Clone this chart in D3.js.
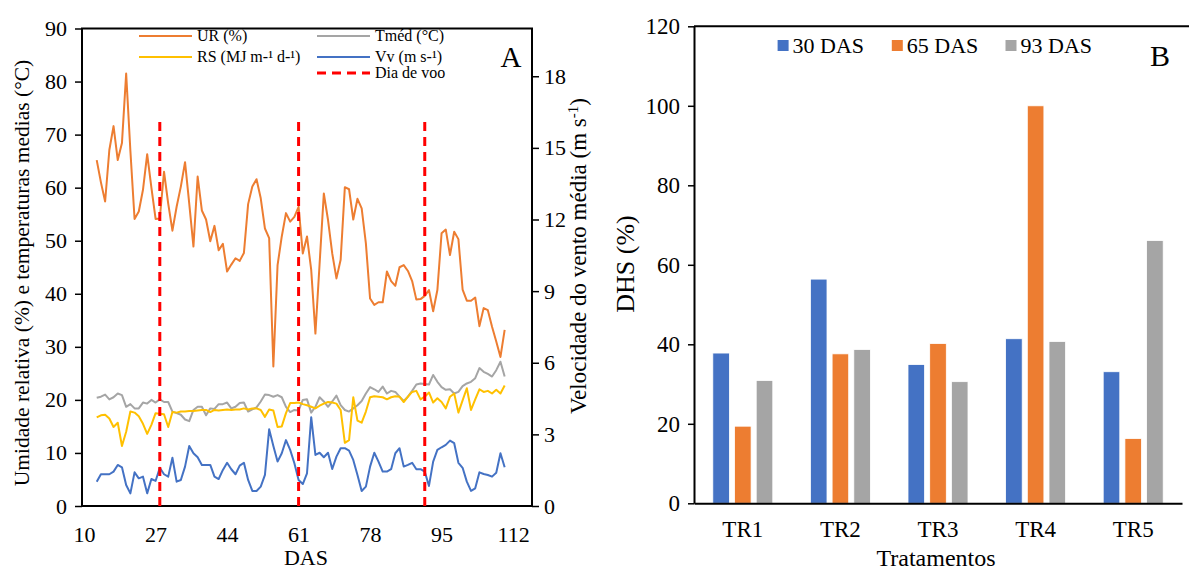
<!DOCTYPE html>
<html>
<head>
<meta charset="utf-8">
<script src="https://cdn.jsdelivr.net/npm/d3@7"></script>
<style>
  html, body { margin: 0; padding: 0; background: #fff; }
  svg { display: block; }
  svg text { font-family: "Liberation Serif", "DejaVu Serif", serif; fill: #000; }
</style>
</head>
<body>
<svg id="chart" width="1189" height="571" font-family="Liberation Serif"></svg>
<script>
// ---- Panel A: daily weather series (DAS 13 to 110) ----
const das = d3.range(13, 111);

const ur = [65.2, 61, 57.4, 67.1, 71.6, 65.2, 68.4, 81.5, 67, 54.1,
  55.5, 59.6, 66.3, 60, 54.1, 54.2, 63, 57, 51.9, 56.4,
  60.2, 64.8, 57, 48.9, 62.1, 55.7, 54, 49.9, 52.8, 48.2,
  49.4, 44.2, 45.5, 46.7, 46.2, 47.7, 56.9, 60.2, 61.6, 58,
  52.3, 50.5, 26.3, 45.4, 50.8, 55.2, 53.6, 54.5, 56.4, 47.6,
  50.8, 44.5, 32.5, 45.7, 58.9, 53.9, 47.6, 42.9, 46.4, 60.1,
  59.7, 54, 57.9, 56.1, 49.5, 39.1, 37.9, 38.4, 38.4, 44.2,
  42.4, 41.5, 45, 45.4, 44.3, 42.4, 38.9, 39, 39.6, 40.7,
  36.7, 40.7, 51.4, 52.1, 47.3, 51.7, 50.3, 40.8, 38.7, 38.7,
  39.3, 33.9, 37.3, 36.9, 33.8, 31, 28.1, 33.2];

const tmed = [20.4, 20.6, 21, 20.1, 20.5, 21.2, 20.9, 18.7, 19.2, 18.4,
  18.4, 19.5, 19.3, 20, 19.5, 20.1, 19.6, 19.6, 17.8, 17.5,
  17.2, 16.3, 16, 18.1, 18.7, 18.7, 17.1, 18.4, 18.3, 19.2,
  19.2, 19.5, 18.4, 18.7, 19.4, 19.5, 17.8, 18.2, 18.6, 19.7,
  21, 20.9, 20.6, 20.9, 20.5, 18.7, 17.7, 18.1, 18, 20,
  20.1, 17.6, 18.7, 20.5, 19.7, 18.7, 19.7, 20.8, 19, 18.1,
  17.8, 18.4, 19, 19.8, 21.2, 22.4, 22, 21.5, 22.5, 21.2,
  21.7, 21.5, 20.6, 19.8, 20.6, 21.7, 22.9, 23.1, 23, 22.9,
  24.7, 23.4, 22.4, 21.9, 22, 21.2, 21.5, 22.6, 23.1, 23.4,
  24.1, 26, 25.3, 24.9, 24.4, 25.6, 27.2, 24.4];

const rs = [16.7, 17.1, 17.2, 16.5, 14.9, 15.7, 11.3, 14, 17.8, 17.6,
  16.9, 15.5, 13.6, 15.3, 17.5, 17.4, 17.3, 14.9, 17.7, 17.6,
  17.8, 17.8, 17.9, 17.9, 18, 18.1, 18.1, 17.7, 18.1, 18,
  18.1, 18.2, 18.1, 18.2, 18.2, 18.4, 18.2, 18.4, 18.4, 18.1,
  16.8, 18.2, 18, 14.9, 15, 17.5, 19.4, 19.4, 19.5, 19.2,
  19, 18.7, 18.4, 18.9, 19.3, 19.6, 19.5, 19.3, 18.1, 11.9,
  12.4, 20.5, 16.1, 15.7, 17.8, 20.5, 20.7, 20.6, 20.5, 20.1,
  20.5, 20.7, 20.6, 19.6, 20.6, 21.5, 21.7, 20.1, 20.6, 21.4,
  19.5, 20.3, 19.6, 18.4, 20.6, 21.2, 17.6, 19.9, 22.2, 18.1,
  20.1, 22, 21.5, 21.7, 21.2, 21.9, 21.2, 22.7];

const vv = [1.02, 1.33, 1.33, 1.33, 1.44, 1.72, 1.62, 0.88, 0.53, 1.41,
  1.16, 1.23, 0.53, 1.13, 1.05, 1.6, 1.33, 1.23, 2.02, 1.02,
  1.09, 1.65, 2.51, 2.21, 2.04, 1.72, 1.72, 1.72, 1.23, 1.13,
  1.51, 1.81, 1.54, 1.33, 1.69, 1.81, 1.09, 0.63, 0.63, 0.81,
  1.3, 3.21, 2.51, 1.86, 2.21, 2.76, 2.35, 1.79, 1.09, 0.92,
  1.37, 3.72, 2.14, 2.23, 2.04, 2.23, 1.55, 2.07, 2.42, 2.42,
  2.32, 1.93, 1.3, 0.63, 0.81, 1.65, 2.23, 1.86, 1.44, 1.44,
  1.54, 2.21, 2.42, 1.65, 1.72, 1.81, 1.54, 1.54, 1.44, 0.84,
  1.86, 2.35, 2.46, 2.56, 2.74, 2.63, 1.81, 1.6, 1.02, 0.63,
  0.74, 1.41, 1.34, 1.3, 1.23, 1.39, 2.21, 1.62];

const flightDays = [28, 61, 91];
const flightTop = 73;
const dasTicks = [10, 27, 44, 61, 78, 95, 112];
const leftTicks = [0, 10, 20, 30, 40, 50, 60, 70, 80, 90];
const rightTicks = [0, 3, 6, 9, 12, 15, 18];

// ---- Panel B: DHS by treatment ----
const treatments = ["TR1", "TR2", "TR3", "TR4", "TR5"];
const dhsSeries = ["30 DAS", "65 DAS", "93 DAS"];
const dhs30 = [37.8, 56.4, 34.9, 41.4, 33.1];
const dhs65 = [19.4, 37.6, 40.2, 100, 16.3];
const dhs93 = [30.9, 38.7, 30.6, 40.7, 66.1];
const dhsTicks = [0, 20, 40, 60, 80, 100, 120];

const C = {
  ur: "#ED7D31", tmed: "#A5A5A5", rs: "#FFC000", vv: "#4472C4", voo: "#FF0000"
};
const SERIF = "Liberation Serif";

const svg = d3.select("#chart");

// ================= Panel A =================
const A = { left: 82, right: 532, top: 28.5, bottom: 506 };
const xA = d3.scaleLinear().domain([9.5, 116.5]).range([A.left, A.right]);
const yA = d3.scaleLinear().domain([0, 90]).range([A.bottom, A.top]);
const yA2 = d3.scaleLinear().domain([0, 20]).range([A.bottom, A.top]);

const gA = svg.append("g");

// plot frame
gA.append("rect")
  .attr("x", A.left).attr("y", A.top)
  .attr("width", A.right - A.left).attr("height", A.bottom - A.top)
  .attr("fill", "none").attr("stroke", "#000").attr("stroke-width", 2);

function drawLine(values, scaleY, color) {
  const line = d3.line()
    .x((d, i) => xA(das[i]))
    .y(d => scaleY(d));
  gA.append("path")
    .datum(values)
    .attr("d", line)
    .attr("fill", "none")
    .attr("stroke", color)
    .attr("stroke-width", 2)
    .attr("stroke-linejoin", "round");
}

drawLine(ur, yA, C.ur);
drawLine(tmed, yA, C.tmed);
drawLine(rs, yA, C.rs);
drawLine(vv, yA2, C.vv);

// flight days
gA.selectAll("line.voo")
  .data(flightDays)
  .join("line")
  .attr("class", "voo")
  .attr("x1", d => xA(d)).attr("x2", d => xA(d))
  .attr("y1", yA(0)).attr("y2", yA(flightTop))
  .attr("stroke", C.voo)
  .attr("stroke-width", 3)
  .attr("stroke-dasharray", "9,6");

function styleTicks(ax, size) {
  ax.attr("font-family", SERIF);
  ax.selectAll(".tick line").attr("stroke", "#000").attr("stroke-width", 1.5);
  ax.selectAll(".tick text").attr("font-size", size).attr("fill", "#000")
    .attr("font-family", SERIF);
}

// left axis
const axL = gA.append("g")
  .attr("transform", `translate(${A.left},0)`)
  .call(d3.axisLeft(yA).tickValues(leftTicks).tickSize(7).tickSizeOuter(0).tickPadding(8));
axL.select(".domain").remove();
styleTicks(axL, 22);

// right axis
const axR = gA.append("g")
  .attr("transform", `translate(${A.right},0)`)
  .call(d3.axisRight(yA2).tickValues(rightTicks).tickSize(7).tickSizeOuter(0).tickPadding(5));
axR.select(".domain").remove();
styleTicks(axR, 22);

// bottom axis labels (no tick marks)
const axB = gA.append("g")
  .attr("transform", `translate(0,${A.bottom})`)
  .call(d3.axisBottom(xA).tickValues(dasTicks).tickSize(0).tickSizeOuter(0).tickPadding(20));
axB.select(".domain").remove();
styleTicks(axB, 22);

// axis titles
gA.append("text")
  .attr("transform", "translate(29,273) rotate(-90)")
  .attr("text-anchor", "middle")
  .attr("font-family", SERIF)
  .attr("font-size", 21.5)
  .text("Umidade relativa (%) e temperaturas medias (°C)");

const rt = gA.append("text")
  .attr("transform", "translate(586,256) rotate(-90)")
  .attr("text-anchor", "middle")
  .attr("font-family", SERIF)
  .attr("font-size", 23);
rt.append("tspan").text("Velocidade do vento média (m s");
rt.append("tspan").attr("font-size", 15).attr("dy", -8).text("-1");
rt.append("tspan").attr("dy", 8).text(")");

gA.append("text")
  .attr("x", 306).attr("y", 565)
  .attr("text-anchor", "middle")
  .attr("font-family", SERIF)
  .attr("font-size", 22)
  .text("DAS");

gA.append("text")
  .attr("x", 511).attr("y", 67)
  .attr("text-anchor", "middle")
  .attr("font-family", SERIF)
  .attr("font-size", 29)
  .text("A");

// legend
const legA = [
  { label: "UR (%)", color: C.ur, x: 139, y: 36, dash: null },
  { label: "RS (MJ m-¹ d-¹)", color: C.rs, x: 139, y: 57, dash: null },
  { label: "Tméd (°C)", color: C.tmed, x: 317, y: 36, dash: null },
  { label: "Vv (m s-¹)", color: C.vv, x: 317, y: 57, dash: null },
  { label: "Dia de voo", color: C.voo, x: 317, y: 73, dash: "9,6" }
];
const lg = gA.selectAll("g.leg").data(legA).join("g").attr("class", "leg");
lg.append("line")
  .attr("x1", d => d.x).attr("x2", d => d.x + 53)
  .attr("y1", d => d.y).attr("y2", d => d.y)
  .attr("stroke", d => d.color)
  .attr("stroke-width", d => d.dash ? 3 : 2)
  .attr("stroke-dasharray", d => d.dash);
lg.append("text")
  .attr("x", d => d.x + 58).attr("y", d => d.y + 5)
  .attr("font-family", SERIF)
  .attr("font-size", 16)
  .text(d => d.label);

// ================= Panel B =================
const B = { left: 694, right: 1182, top: 26.3, bottom: 503.3 };
const xB = d3.scaleBand().domain(treatments).range([B.left, B.right]);
const xSub = d3.scaleBand().domain(dhsSeries).range([-30, 30]).paddingInner(0.235);
const yB = d3.scaleLinear().domain([0, 120]).range([B.bottom, B.top]);
const colorB = d3.scaleOrdinal().domain(dhsSeries).range([C.vv, C.ur, C.tmed]);

const gB = svg.append("g");

const barData = [];
treatments.forEach((t, i) => {
  [dhs30, dhs65, dhs93].forEach((arr, j) => {
    barData.push({ t, s: dhsSeries[j], v: arr[i] });
  });
});

gB.selectAll("rect.bar")
  .data(barData)
  .join("rect")
  .attr("class", "bar")
  .attr("x", d => xB(d.t) + xB.bandwidth() / 2 + xSub(d.s))
  .attr("width", xSub.bandwidth())
  .attr("y", d => yB(d.v))
  .attr("height", d => yB(0) - yB(d.v))
  .attr("fill", d => colorB(d.s))
  .attr("stroke", "#fff")
  .attr("stroke-width", 0.8);

// top border
gB.append("line")
  .attr("x1", B.left).attr("x2", 1189)
  .attr("y1", B.top).attr("y2", B.top)
  .attr("stroke", "#000").attr("stroke-width", 2);

// y axis
const byAx = gB.append("g")
  .attr("transform", `translate(${B.left},0)`)
  .call(d3.axisLeft(yB).tickValues(dhsTicks).tickSize(6).tickSizeOuter(0).tickPadding(8));
byAx.select(".domain").attr("stroke", "#000").attr("stroke-width", 2);
styleTicks(byAx, 23);

// x axis
const bxAx = gB.append("g")
  .attr("transform", `translate(0,${B.bottom})`)
  .call(d3.axisBottom(xB).tickSize(0).tickSizeOuter(0).tickPadding(17));
bxAx.select(".domain").attr("stroke", "#000").attr("stroke-width", 2);
styleTicks(bxAx, 23);

gB.append("text")
  .attr("transform", "translate(634,264) rotate(-90)")
  .attr("text-anchor", "middle")
  .attr("font-family", SERIF)
  .attr("font-size", 26)
  .text("DHS (%)");

gB.append("text")
  .attr("x", 936).attr("y", 565.5)
  .attr("text-anchor", "middle")
  .attr("font-family", SERIF)
  .attr("font-size", 24)
  .text("Tratamentos");

gB.append("text")
  .attr("x", 1160).attr("y", 66)
  .attr("text-anchor", "middle")
  .attr("font-family", SERIF)
  .attr("font-size", 30)
  .text("B");

// legend
const legB = [
  { s: "30 DAS", x: 777.6 },
  { s: "65 DAS", x: 891.8 },
  { s: "93 DAS", x: 1005.5 }
];
const lgB = gB.selectAll("g.legb").data(legB).join("g").attr("class", "legb");
lgB.append("rect")
  .attr("x", d => d.x).attr("y", 40)
  .attr("width", 11).attr("height", 11)
  .attr("fill", d => colorB(d.s));
lgB.append("text")
  .attr("x", d => d.x + 15).attr("y", 53)
  .attr("font-family", SERIF)
  .attr("font-size", 22)
  .text(d => d.s);
</script>
</body>
</html>
